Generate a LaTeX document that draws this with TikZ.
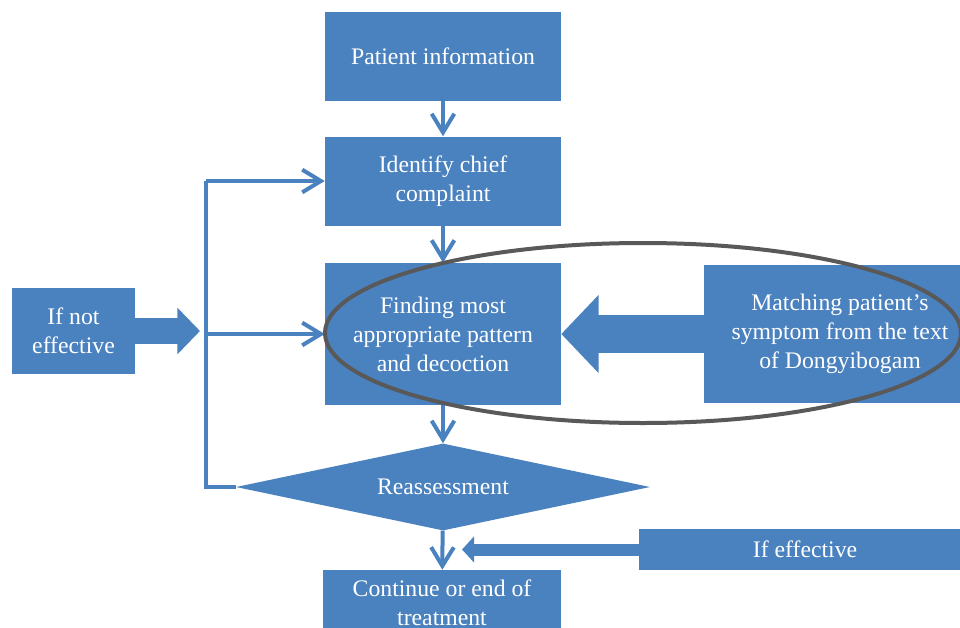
\documentclass[tikz,border=0pt]{standalone}
\usepackage{fontspec}
\setmainfont{Liberation Serif}
\usepackage{tikz}
\usetikzlibrary{arrows.meta, positioning, calc, shapes.geometric}

\definecolor{boxblue}{RGB}{74,129,191}
\definecolor{ringgray}{RGB}{89,89,89}

\begin{document}
\begin{tikzpicture}[x=0.75pt, y=-0.75pt,
    box/.style={rectangle, fill=boxblue, text=white, align=center, inner sep=2pt,
        font=\fontsize{17.8}{21.75}\selectfont},
    flow/.style={boxblue, line width=3pt, -{Straight Barb[length=14pt, width=17pt, line width=3pt]}},
    link/.style={boxblue, line width=3pt}]
    \clip (0,0) rectangle (960,628);
    \useasboundingbox (0,0) rectangle (960,628);

    % main column
    \node[box, minimum width=177pt, minimum height=66.75pt] (pat) at (443,56.5) {Patient information};
    \node[box, minimum width=177pt, minimum height=66.75pt] (ident) at (443,181) {Identify chief\\complaint};
    \node[box, minimum width=177pt, minimum height=106.5pt] (find) at (443,334) {Finding most\\appropriate pattern\\and decoction};
    \node[diamond, fill=boxblue, text=white, inner sep=0pt, minimum width=310.5pt, minimum height=65.25pt,
        aspect=4.76, font=\fontsize{17.8}{21.75}\selectfont] (reass) at (443,487) {Reassessment};
    \node[box, minimum width=178.5pt, minimum height=49.5pt] (cont) at (442,603) {Continue or end of\\treatment};

    % side boxes
    \node[box, minimum width=204pt, minimum height=103.5pt] (match) at (840,334) {Matching patient's\\symptom from the text\\of Dongyibogam};
    \node[box, minimum width=92pt, minimum height=64pt] (notfx) at (73.5,331) {If not\\effective};
    \node[box, minimum width=249pt, minimum height=31pt] (eff) at (805,549.5) {If effective};

    \coordinate (fork) at (206,0);
    \coordinate (tip) at (200,331);
    \coordinate (effend) at (462,549.5);

    \draw[flow] (pat) -- (ident);
    \draw[flow] (ident) -- (find);
    \draw[flow] (find) -- (reass);
    \draw[flow] (reass) -- (cont);

    % loop back
    \draw[link] (reass.west) -| (fork |- ident.west);
    \draw[flow] (fork |- ident.west) -- (ident.west);
    \draw[flow] (fork |- find.west) -- (find.west);

    % block arrows
    \draw[boxblue, line width=28pt, -{Triangle[length=28pt, width=57pt]}] (match.west) -- (find.east);
    \draw[boxblue, line width=19pt, -{Triangle[length=17pt, width=34pt]}] (notfx.east) -- (tip);
    \draw[boxblue, line width=9pt, -{Triangle[length=9pt, width=19pt]}] (eff.west) -- (effend);

    % ring
    \draw[ringgray, line width=3pt] (643,333) ellipse [x radius=318, y radius=90];
\end{tikzpicture}
\end{document}
